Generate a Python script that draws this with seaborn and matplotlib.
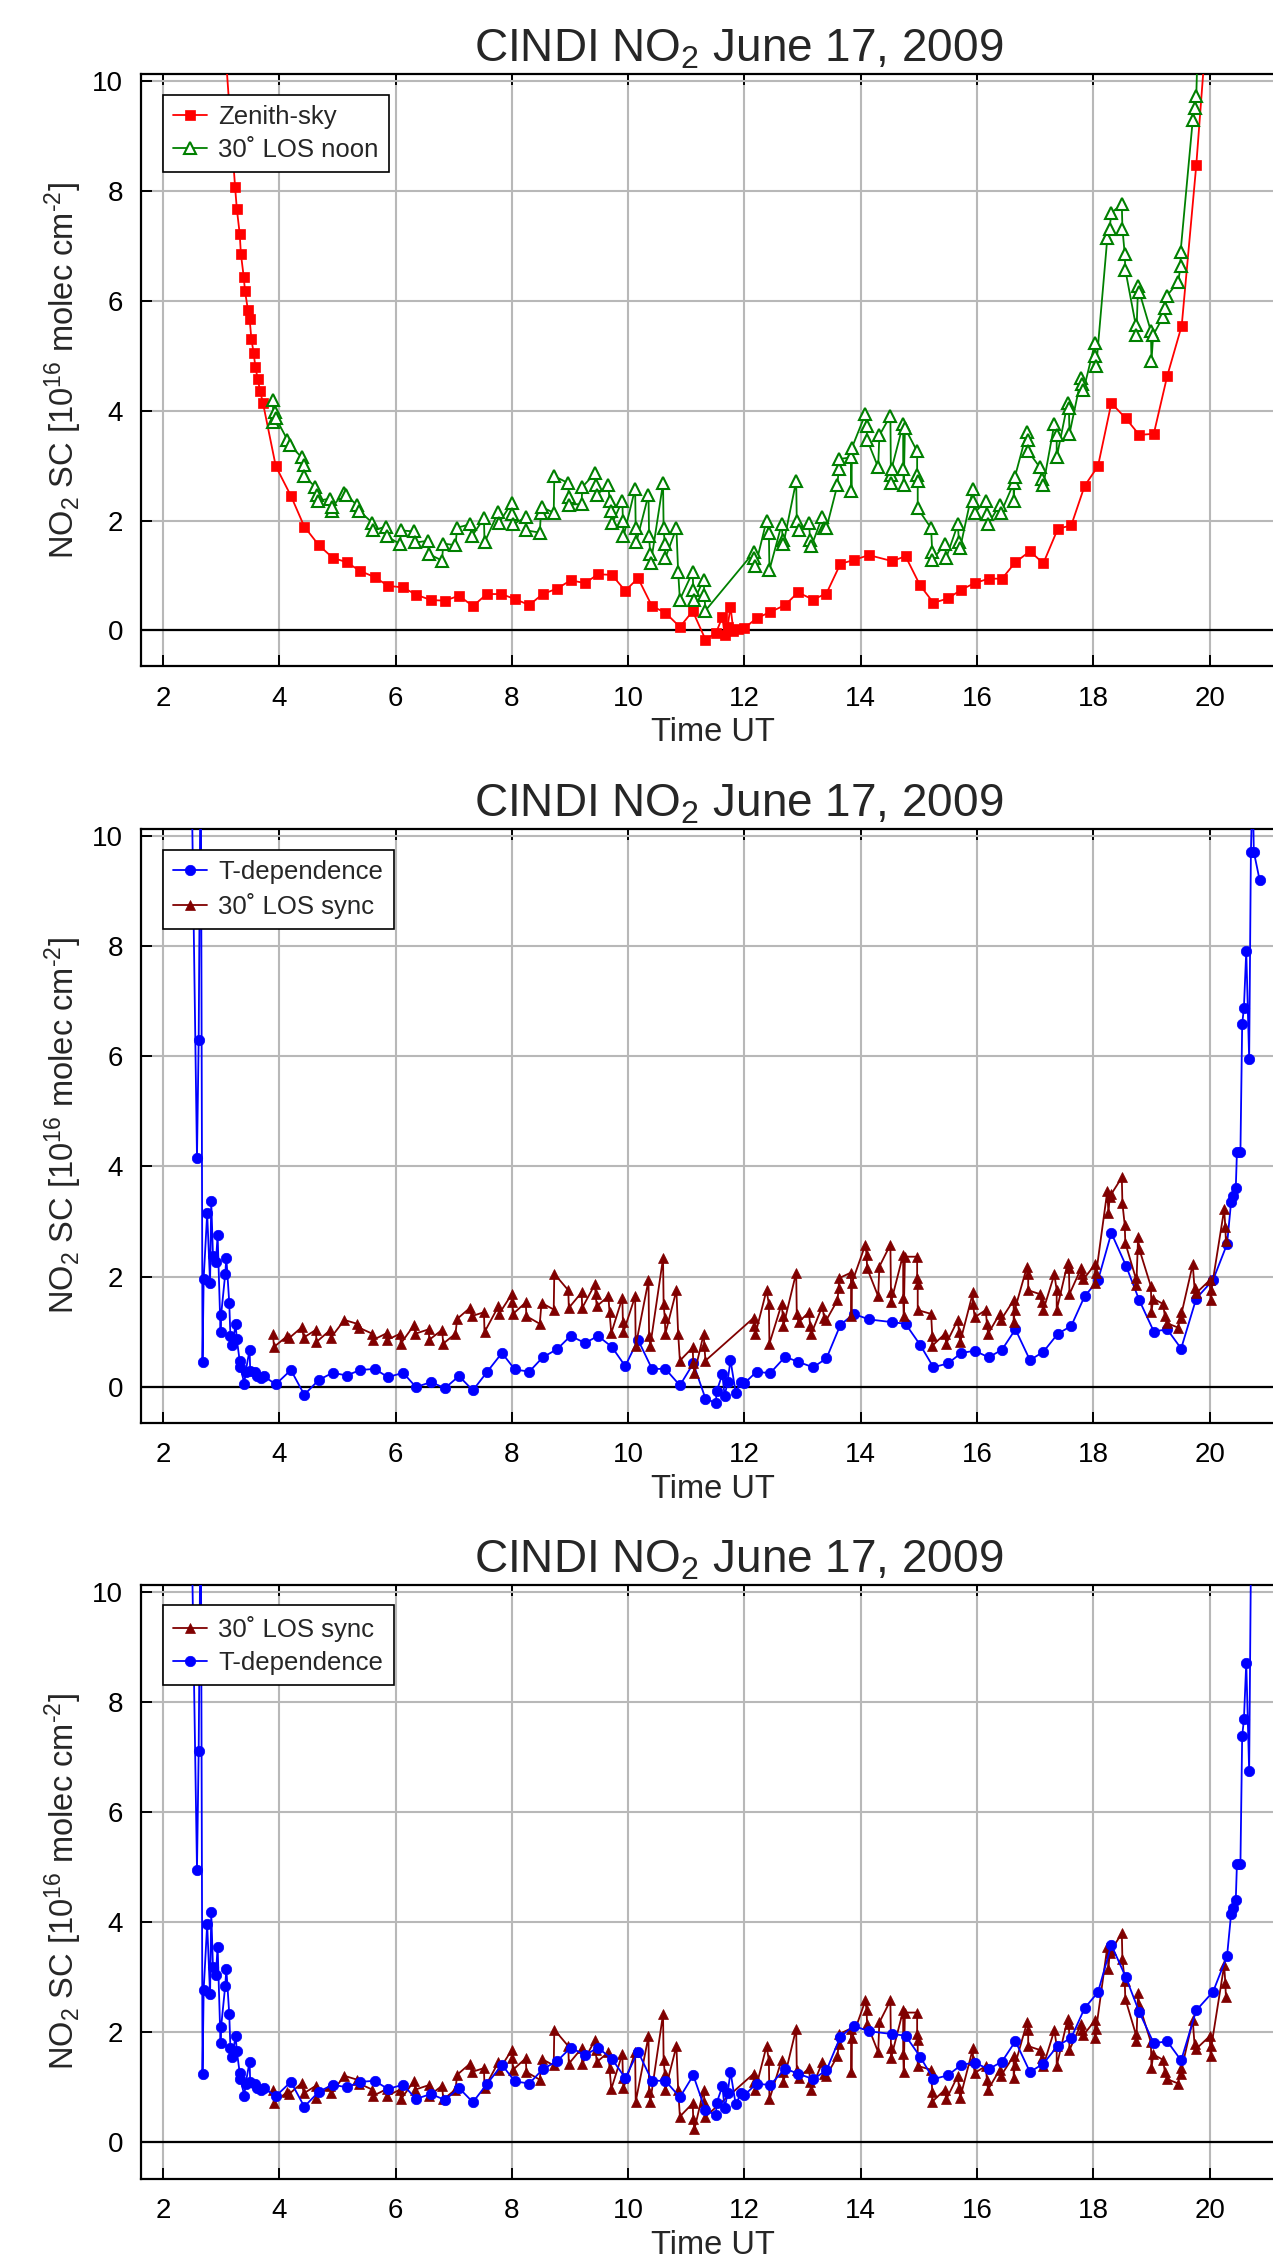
import matplotlib
matplotlib.use("Agg")
import matplotlib.pyplot as plt
import pandas as pd
import seaborn as sns

# ---- data (time UT, slant column 1e16 molec/cm2) ----
zenith_t = [2.95, 3.24, 3.27, 3.32, 3.34, 3.39, 3.41, 3.46, 3.49, 3.52, 3.56, 3.59, 3.63,
            3.67, 3.72, 3.94, 4.20, 4.43, 4.68, 4.92, 5.16, 5.39, 5.64, 5.87, 6.13, 6.35,
            6.61, 6.85, 7.09, 7.33, 7.57, 7.82, 8.05, 8.30, 8.53, 8.78, 9.01, 9.26, 9.48,
            9.72, 9.95, 10.17, 10.41, 10.64, 10.89, 11.11, 11.33, 11.51, 11.62, 11.66,
            11.71, 11.76, 11.81, 11.89, 12.00, 12.21, 12.44, 12.70, 12.92, 13.18, 13.41,
            13.65, 13.88, 14.14, 14.54, 14.77, 15.02, 15.25, 15.50, 15.73, 15.96, 16.20,
            16.43, 16.66, 16.91, 17.14, 17.39, 17.62, 17.85, 18.08, 18.31, 18.56, 18.79,
            19.04, 19.27, 19.52, 19.77, 19.95]
zenith_v = [12.4, 8.08, 7.68, 7.22, 6.86, 6.43, 6.19, 5.84, 5.68, 5.31, 5.05, 4.79, 4.58,
            4.36, 4.14, 2.99, 2.45, 1.89, 1.55, 1.32, 1.24, 1.08, 0.97, 0.81, 0.78, 0.65,
            0.55, 0.54, 0.63, 0.44, 0.66, 0.66, 0.57, 0.46, 0.66, 0.76, 0.91, 0.86, 1.02,
            1.01, 0.72, 0.95, 0.44, 0.32, 0.06, 0.35, -0.17, -0.05, 0.24, -0.09,
            0.06, 0.43, -0.01, 0.02, 0.04, 0.22, 0.33, 0.46, 0.69, 0.56, 0.67,
            1.21, 1.28, 1.37, 1.26, 1.35, 0.82, 0.50, 0.58, 0.74, 0.86, 0.94,
            0.94, 1.24, 1.44, 1.22, 1.85, 1.91, 2.63, 2.99, 4.14, 3.86, 3.56,
            3.58, 4.63, 5.55, 8.47, 11.0]

noon_t = [3.89, 3.90, 3.92, 3.94, 4.14, 4.18, 4.39, 4.42, 4.43, 4.62, 4.65, 4.66, 4.88,
          4.90, 4.91, 5.11, 5.14, 5.33, 5.37, 5.60, 5.62, 5.83, 5.85, 6.08, 6.09, 6.32,
          6.34, 6.56, 6.57, 6.80, 6.82, 7.03, 7.06, 7.28, 7.31, 7.52, 7.53, 7.77, 7.78,
          8.00, 8.01, 8.02, 8.24, 8.25, 8.48, 8.50, 8.51, 8.72, 8.73, 8.97, 8.98, 8.99,
          9.20, 9.21, 9.43, 9.44, 9.46, 9.66, 9.68, 9.71, 9.73, 9.90, 9.91, 9.92, 10.12,
          10.13, 10.14, 10.35, 10.36, 10.38, 10.39, 10.60, 10.61, 10.63, 10.64, 10.83,
          10.86, 10.89, 11.11, 11.12, 11.14, 11.30, 11.31, 11.33, 12.16, 12.17, 12.19,
          12.38, 12.42, 12.43, 12.64, 12.66, 12.67, 12.89, 12.90, 12.93, 13.11, 13.13,
          13.15, 13.34, 13.37, 13.41, 13.60, 13.62, 13.63, 13.83, 13.84, 13.85, 14.08,
          14.10, 14.11, 14.30, 14.32, 14.51, 14.52, 14.52, 14.53, 14.73, 14.73, 14.74,
          14.76, 14.97, 14.97, 14.98, 14.98, 15.21, 15.23, 15.23, 15.45, 15.47, 15.67,
          15.69, 15.71, 15.93, 15.93, 15.96, 16.15, 16.17, 16.19, 16.39, 16.41, 16.63,
          16.63, 16.65, 16.86, 16.88, 16.88, 17.08, 17.11, 17.14, 17.33, 17.37, 17.37,
          17.56, 17.58, 17.59, 17.79, 17.81, 17.83, 18.03, 18.03, 18.05, 18.24, 18.28,
          18.31, 18.49, 18.50, 18.54, 18.55, 18.73, 18.74, 18.77, 18.79, 18.99, 19.00,
          19.03, 19.20, 19.23, 19.27, 19.46, 19.50, 19.50, 19.71, 19.74, 19.77, 19.80]
noon_v = [4.19, 3.80, 3.98, 3.87, 3.47, 3.37, 3.15, 3.01, 2.81, 2.61, 2.47, 2.36, 2.40,
          2.18, 2.25, 2.50, 2.47, 2.29, 2.18, 1.96, 1.82, 1.89, 1.71, 1.57, 1.82, 1.80,
          1.60, 1.63, 1.39, 1.27, 1.58, 1.55, 1.87, 1.93, 1.71, 2.04, 1.60, 2.16, 1.96,
          2.32, 2.11, 1.93, 2.06, 1.82, 1.78, 2.13, 2.25, 2.14, 2.81, 2.68, 2.43, 2.29,
          2.30, 2.61, 2.86, 2.65, 2.47, 2.65, 2.36, 2.18, 1.96, 2.36, 2.00, 1.71, 2.58,
          1.86, 1.60, 2.47, 1.71, 1.39, 1.22, 2.68, 1.86, 1.57, 1.32, 1.86,
          1.06, 0.56, 1.06, 0.74, 0.56, 0.92, 0.65, 0.36, 1.42, 1.32, 1.17,
          2.00, 1.78, 1.10, 1.93, 1.64, 1.57, 2.72, 2.00, 1.82, 1.96, 1.64,
          1.53, 2.07, 1.86, 1.86, 2.65, 2.94, 3.12, 3.15, 2.54, 3.33, 3.94,
          3.73, 3.47, 2.97, 3.55, 3.91, 2.83, 2.68, 2.94, 3.76, 2.94, 2.65,
          3.69, 3.26, 2.83, 2.72, 2.22, 1.86, 1.42, 1.28, 1.57, 1.32, 1.93,
          1.60, 1.50, 2.58, 2.36, 2.14, 2.36, 2.11, 1.93, 2.29, 2.14, 2.68,
          2.36, 2.79, 3.62, 3.47, 3.26, 2.97, 2.76, 2.65, 3.76, 3.55, 3.15,
          4.15, 4.05, 3.58, 4.59, 4.48, 4.37, 5.24, 4.99, 4.81, 7.14, 7.32,
          7.61, 7.76, 7.32, 6.86, 6.57, 5.56, 5.38, 6.28, 6.17, 5.45, 4.91,
          5.38, 5.71, 5.88, 6.10, 6.35, 6.64, 6.89, 9.30, 9.52, 9.73, 10.8]

sync_t = [3.89, 3.91, 4.14, 4.17, 4.39, 4.42, 4.63, 4.64, 4.88, 4.89, 5.12, 5.34, 5.37,
          5.60, 5.62, 5.85, 5.86, 6.08, 6.09, 6.32, 6.34, 6.57, 6.58, 6.80, 6.82, 7.03,
          7.06, 7.28, 7.31, 7.52, 7.53, 7.77, 7.78, 8.00, 8.01, 8.02, 8.24, 8.25, 8.48,
          8.51, 8.72, 8.73, 8.97, 8.98, 9.20, 9.21, 9.43, 9.44, 9.46, 9.66, 9.68, 9.71,
          9.90, 9.91, 9.92, 10.12, 10.13, 10.35, 10.36, 10.38, 10.60, 10.61, 10.63, 10.64,
          10.83, 10.86, 10.89, 11.11, 11.12, 11.14, 11.30, 11.31, 11.33, 12.16, 12.17,
          12.19, 12.38, 12.42, 12.43, 12.64, 12.66, 12.67, 12.89, 12.90, 12.93, 13.11,
          13.13, 13.15, 13.34, 13.37, 13.41, 13.60, 13.62, 13.63, 13.83, 13.84, 13.85,
          14.08, 14.10, 14.11, 14.30, 14.32, 14.51, 14.52, 14.52, 14.73, 14.73, 14.74,
          14.76, 14.97, 14.97, 14.98, 14.98, 15.21, 15.23, 15.23, 15.45, 15.47, 15.67,
          15.69, 15.71, 15.93, 15.93, 15.96, 16.15, 16.17, 16.19, 16.39, 16.41, 16.63,
          16.63, 16.65, 16.86, 16.88, 16.88, 17.08, 17.11, 17.14, 17.33, 17.37, 17.37,
          17.56, 17.58, 17.59, 17.79, 17.81, 17.83, 18.03, 18.03, 18.05, 18.24, 18.26,
          18.28, 18.31, 18.49, 18.50, 18.54, 18.55, 18.73, 18.74, 18.77, 18.79, 18.99,
          19.00, 19.03, 19.20, 19.23, 19.27, 19.46, 19.50, 19.50, 19.71, 19.74, 19.77,
          20.00, 20.02, 20.03, 20.25, 20.27, 20.28]
sync_v = [0.96, 0.72, 0.92, 0.88, 1.08, 0.89, 1.03, 0.81, 1.03, 0.89, 1.21, 1.14, 1.07,
          0.96, 0.85, 0.97, 0.85, 0.96, 0.78, 1.12, 0.96, 1.04, 0.85, 1.03, 0.78, 0.96,
          1.23, 1.43, 1.28, 1.35, 0.99, 1.46, 1.32, 1.68, 1.53, 1.32, 1.53, 1.28, 1.14,
          1.52, 1.40, 2.05, 1.75, 1.43, 1.71, 1.43, 1.86, 1.68, 1.46, 1.64, 1.35, 0.97,
          1.61, 1.17, 0.99, 1.64, 0.74, 1.93, 0.92, 0.74, 2.33, 1.50, 1.25, 0.96,
          1.75, 0.96, 0.47, 0.71, 0.42, 0.24, 0.96, 0.74, 0.47, 1.25, 1.10,
          0.96, 1.75, 1.50, 0.78, 1.50, 1.28, 1.10, 2.07, 1.32, 1.17, 1.35,
          1.10, 0.96, 1.46, 1.25, 1.21, 1.57, 1.79, 1.97, 2.07, 1.28, 1.89,
          2.58, 2.40, 2.15, 1.64, 2.18, 2.58, 1.71, 1.53, 2.40, 1.61, 1.28,
          2.36, 2.36, 1.97, 1.86, 1.39, 1.32, 0.92, 0.74, 0.96, 0.78, 1.21,
          0.99, 0.81, 1.71, 1.50, 1.26, 1.39, 1.14, 0.96, 1.32, 1.21, 1.57,
          1.17, 1.40, 2.18, 2.04, 1.75, 1.68, 1.53, 1.39, 2.04, 1.75, 1.39,
          2.25, 2.15, 1.68, 2.15, 2.04, 1.95, 2.22, 1.89, 2.07, 3.55, 3.15,
          3.44, 3.50, 3.80, 3.33, 2.94, 2.61, 1.97, 1.85, 2.72, 2.50, 1.82,
          1.35, 1.60, 1.50, 1.28, 1.15, 1.07, 1.35, 1.25, 2.22, 1.79, 1.70,
          1.93, 1.57, 1.75, 3.22, 2.90, 2.65]

tdep_t = [2.48, 2.585, 2.614, 2.65, 2.68, 2.70, 2.76, 2.81, 2.83, 2.86, 2.91, 2.94, 2.99,
          3.00, 3.07, 3.09, 3.14, 3.16, 3.19, 3.25, 3.27, 3.32, 3.33, 3.40, 3.42, 3.49,
          3.50, 3.59, 3.62, 3.68, 3.73, 3.94, 4.20, 4.43, 4.68, 4.92, 5.16, 5.39, 5.64,
          5.87, 6.13, 6.35, 6.61, 6.85, 7.09, 7.33, 7.57, 7.83, 8.05, 8.30, 8.53, 8.78,
          9.01, 9.26, 9.48, 9.72, 9.95, 10.17, 10.41, 10.64, 10.89, 11.12, 11.33, 11.51,
          11.52, 11.62, 11.66, 11.71, 11.76, 11.85, 11.94, 12.00, 12.21, 12.44, 12.70,
          12.92, 13.18, 13.41, 13.65, 13.88, 14.14, 14.54, 14.77, 15.02, 15.25, 15.50,
          15.73, 15.96, 16.20, 16.43, 16.66, 16.91, 17.14, 17.39, 17.62, 17.85, 18.08,
          18.31, 18.56, 18.79, 19.04, 19.27, 19.51, 19.77, 20.06, 20.30, 20.37, 20.40,
          20.45, 20.47, 20.53, 20.56, 20.59, 20.63, 20.68, 20.71, 20.74, 20.76, 20.86]
tdep_v = [12.0, 4.16, 6.30, 12.0, 0.44, 1.96, 3.15, 1.89, 3.38, 2.38, 2.26, 2.75, 1.00,
          1.30, 2.04, 2.34, 1.52, 0.91, 0.75, 1.13, 0.86, 0.46, 0.36, 0.05, 0.26, 0.67,
          0.29, 0.26, 0.19, 0.15, 0.19, 0.04, 0.30, -0.15, 0.12, 0.25, 0.20, 0.30, 0.32,
          0.17, 0.25, -0.01, 0.08, -0.03, 0.19, -0.07, 0.26, 0.61, 0.31, 0.27, 0.53, 0.68,
          0.92, 0.79, 0.92, 0.72, 0.37, 0.85, 0.32, 0.32, 0.02, 0.42, -0.22, -0.30,
          -0.09, 0.22, -0.18, 0.09, 0.48, -0.11, 0.09, 0.06, 0.27, 0.24, 0.54,
          0.45, 0.35, 0.51, 1.12, 1.32, 1.22, 1.17, 1.14, 0.76, 0.35, 0.42,
          0.61, 0.65, 0.53, 0.67, 1.04, 0.48, 0.63, 0.96, 1.10, 1.64, 1.93,
          2.79, 2.20, 1.57, 1.00, 1.04, 0.69, 1.60, 1.94, 2.59, 3.36, 3.47,
          3.61, 4.27, 4.27, 6.59, 6.89, 7.92, 5.95, 9.72, 11.0, 9.72, 9.21]

# bottom panel: T-dependence curve as drawn there (sits higher than in the middle panel)
tdep2_t = [2.48, 2.585, 2.614, 2.65, 2.68, 2.70, 2.76, 2.81, 2.83, 2.86, 2.91, 2.94, 2.99,
           3.00, 3.07, 3.09, 3.14, 3.16, 3.19, 3.25, 3.27, 3.32, 3.33, 3.40, 3.42, 3.49,
           3.50, 3.59, 3.62, 3.68, 3.73, 3.94, 4.20, 4.43, 4.68, 4.92, 5.16, 5.39, 5.64,
           5.87, 6.13, 6.35, 6.61, 6.85, 7.09, 7.33, 7.57, 7.83, 8.05, 8.30, 8.53, 8.78,
           9.01, 9.26, 9.48, 9.72, 9.95, 10.17, 10.41, 10.64, 10.89, 11.12, 11.33, 11.51,
           11.52, 11.62, 11.66, 11.71, 11.76, 11.85, 11.94, 12.00, 12.21, 12.44, 12.70,
           12.92, 13.18, 13.41, 13.65, 13.88, 14.14, 14.54, 14.77, 15.02, 15.25, 15.50,
           15.73, 15.96, 16.20, 16.43, 16.66, 16.91, 17.14, 17.39, 17.62, 17.85, 18.08,
           18.31, 18.56, 18.79, 19.04, 19.27, 19.51, 19.77, 20.06, 20.30, 20.37, 20.40,
           20.45, 20.47, 20.53, 20.56, 20.59, 20.63, 20.68, 20.71]
tdep2_v = [12.0, 4.96, 7.11, 12.0, 1.25, 2.77, 3.97, 2.69, 4.19, 3.18, 3.05, 3.56, 1.80,
           2.10, 2.84, 3.15, 2.33, 1.71, 1.55, 1.94, 1.66, 1.26, 1.16, 0.85, 1.06, 1.47,
           1.09, 1.06, 0.99, 0.95, 0.99, 0.84, 1.10, 0.65, 0.92, 1.05, 1.00, 1.10, 1.12,
           0.97, 1.05, 0.79, 0.88, 0.77, 0.99, 0.73, 1.06, 1.41, 1.11, 1.07, 1.33, 1.48,
           1.72, 1.59, 1.72, 1.52, 1.17, 1.65, 1.12, 1.12, 0.82, 1.22, 0.58, 0.50,
           0.71, 1.02, 0.62, 0.89, 1.28, 0.69, 0.89, 0.86, 1.07, 1.04, 1.34,
           1.25, 1.15, 1.31, 1.92, 2.12, 2.02, 1.97, 1.94, 1.56, 1.15, 1.22,
           1.41, 1.45, 1.33, 1.47, 1.84, 1.28, 1.43, 1.76, 1.90, 2.44, 2.73,
           3.59, 3.00, 2.37, 1.80, 1.84, 1.49, 2.40, 2.74, 3.39, 4.16, 4.27,
           4.41, 5.07, 5.07, 7.39, 7.69, 8.72, 6.75, 10.52]

xticks = [2, 4, 6, 8, 10, 12, 14, 16, 18, 20]
yticks = [0, 2, 4, 6, 8, 10]
TITLE = "CINDI NO$_2$ June 17, 2009"
YLABEL = "NO$_2$ SC [10$^{16}$ molec cm$^{\u20102}$]"

sns.set_style("ticks")
plt.rcParams["font.family"] = ["Liberation Sans", "DejaVu Sans"]
plt.rcParams["mathtext.fontset"] = "custom"
plt.rcParams["mathtext.rm"] = "Liberation Sans"
plt.rcParams["mathtext.it"] = "Liberation Sans:italic"
plt.rcParams["mathtext.bf"] = "Liberation Sans:bold"

STYLES = {
    "Zenith-sky": dict(color="#ff0000", marker="s", markersize=7,
                       markerfacecolor="#ff0000", markeredgecolor="#ff0000", markeredgewidth=0.5),
    "30˚ LOS noon": dict(color="#008000", marker="^", markersize=9,
                         markerfacecolor="white", markeredgecolor="#008000", markeredgewidth=1.5),
    "T-dependence": dict(color="#0000ff", marker="o", markersize=7.5,
                         markerfacecolor="#0000ff", markeredgecolor="#0000ff", markeredgewidth=0.5),
    "30˚ LOS sync": dict(color="#800000", marker="^", markersize=7.5,
                         markerfacecolor="#800000", markeredgecolor="#800000", markeredgewidth=0.5),
}


def draw_panel(ax, series):
    for label, t, v in series:
        frame = pd.DataFrame({"time": t, "value": v})
        sns.lineplot(data=frame, x="time", y="value", sort=False, estimator=None,
                     ax=ax, label=label, linewidth=1.3, zorder=3, **STYLES[label])

    ax.axhline(0, color="black", linewidth=1.6, zorder=2)
    ax.set_xlim(1.623, 21.09)
    ax.set_ylim(-0.66, 10.14)
    ax.set_xticks(xticks)
    ax.set_yticks(yticks)
    ax.grid(True, color="#b8b8b8", linewidth=1.5, zorder=0)
    ax.set_axisbelow(True)
    ax.tick_params(direction="in", length=8, width=1.4, top=True, right=False,
                   labelsize=20, colors="black")
    ax.tick_params(axis="x", pad=14)
    ax.tick_params(axis="y", pad=13)
    for side in ("left", "bottom", "top"):
        ax.spines[side].set_linewidth(1.6)
        ax.spines[side].set_color("black")
    ax.spines["right"].set_visible(False)

    ax.set_title(TITLE, fontsize=33, pad=9, x=0.528)
    ax.set_xlabel("Time UT", fontsize=23.5, labelpad=4, x=0.505)
    ax.set_ylabel(YLABEL, fontsize=23.5, labelpad=6)

    leg = ax.legend(loc="upper left", bbox_to_anchor=(0.0195, 0.965), borderaxespad=0,
                    fontsize=18.5, frameon=True, fancybox=False, framealpha=1,
                    edgecolor="black", handlelength=1.3, handletextpad=0.45,
                    labelspacing=0.35, borderpad=0.4)
    leg.get_frame().set_linewidth(1.2)
    leg.set_zorder(10)


fig = plt.figure(figsize=(12.73, 22.57), dpi=100)
ax1 = fig.add_axes([0.1108, 0.7047, 0.8892, 0.2626])
ax2 = fig.add_axes([0.1108, 0.3696, 0.8892, 0.2632])
ax3 = fig.add_axes([0.1108, 0.0347, 0.8892, 0.2632])

draw_panel(ax1, [("Zenith-sky", zenith_t, zenith_v),
                 ("30˚ LOS noon", noon_t, noon_v)])
draw_panel(ax2, [("T-dependence", tdep_t, tdep_v),
                 ("30˚ LOS sync", sync_t, sync_v)])
draw_panel(ax3, [("30˚ LOS sync", sync_t, sync_v),
                 ("T-dependence", tdep2_t, tdep2_v)])

fig.savefig("out.png", dpi=100)
